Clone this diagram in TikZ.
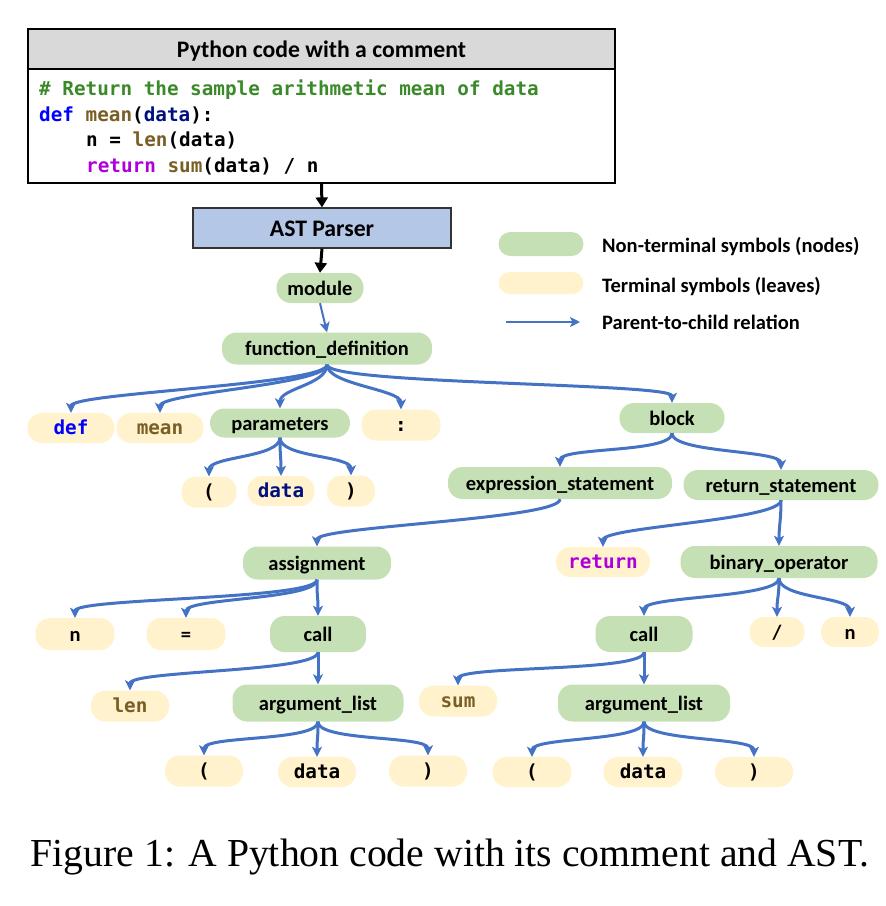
\documentclass[tikz,border=0pt]{standalone}
\usepackage{fontspec}
\setmainfont{Carlito}
\newfontfamily\monof{DejaVu Sans Mono}
\newfontfamily\capf{Liberation Serif}
\usetikzlibrary{arrows.meta}
\definecolor{ntg}{HTML}{C5E0B4}
\definecolor{lfy}{HTML}{FFF2CC}
\definecolor{edgeb}{HTML}{4472C4}
\definecolor{astb}{HTML}{B4C7E7}
\definecolor{hdrg}{HTML}{D9D9D9}
\definecolor{cmtg}{HTML}{3A8A2A}
\definecolor{kwb}{HTML}{0000FF}
\definecolor{fnbr}{HTML}{795E26}
\definecolor{varn}{HTML}{001080}
\definecolor{kwp}{HTML}{AF00DB}
\newcommand\nfont{\fontsize{20.5}{24}\selectfont\bfseries}
\newcommand\mfont{\monof\fontsize{19.3}{23}\selectfont\bfseries}
\newcommand\tfont{\fontsize{23.7}{28}\selectfont\bfseries}
\tikzset{
 pill/.style={rounded corners=14.5pt, inner sep=0pt},
 nt/.style={pill, fill=ntg, font=\nfont, text height=14pt, text depth=0pt},
 lf/.style={pill, fill=lfy, font=\mfont, text height=13pt, text depth=1pt},
 lfs/.style={pill, fill=lfy, font=\nfont, text height=14pt, text depth=0pt},
 tarr/.style={draw=edgeb, line width=3pt, -{Stealth[length=10pt,width=10pt,inset=2.5pt]}},
 blk/.style={draw=black, line width=3pt, -{Triangle[length=10pt,width=12pt]}},
 codeline/.style={anchor=west, inner sep=0pt, font=\mfont, text height=13pt, text depth=1pt},
 legtext/.style={anchor=west, inner sep=0pt, font=\nfont, text height=14pt, text depth=0pt},
 titletext/.style={font=\tfont, text height=17pt, text depth=0pt, inner sep=0pt},
}
\newcommand\tedge[2]{\draw[tarr] (#1.south) .. controls +(0,20) and +(0,-20) .. (#2.north);}
\begin{document}
\begin{tikzpicture}[x=1pt,y=-1pt]
\useasboundingbox (0,0) rectangle (886,906);
% code box
\node[draw=black, line width=1.4pt, fill=hdrg, minimum width=587pt, minimum height=40pt, titletext] (hdr) at (321.5,49) {Python code with a comment};
\node[draw=black, line width=1.4pt, fill=white, minimum width=587pt, minimum height=114pt, inner sep=0pt] (body) at (321.5,126) {};
\node[codeline] (l1) at (39,89) {\textcolor{cmtg}{\# Return the sample arithmetic mean of data}};
\node[codeline] (l2) at (39,115) {\textcolor{kwb}{def} \textcolor{fnbr}{mean}(\textcolor{varn}{data}):};
\node[codeline] (l3) at (86,140.5) {n = \textcolor{fnbr}{len}(data)};
\node[codeline] (l4) at (86,166) {\textcolor{kwp}{return} \textcolor{fnbr}{sum}(data) / n};
% parser
\node[draw=black!80, line width=1.2pt, fill=astb, minimum width=258pt, minimum height=40pt, titletext] (ast) at (322,228) {AST Parser};
\draw[blk] (body.south) -- (ast.north);
% tree
\node[nt, minimum width=87pt, minimum height=30pt] (module) at (320,288) {module};
\draw[blk] (ast.south) -- (module.north);
\node[nt, minimum width=210pt, minimum height=32pt] (fd) at (327,348.5) {function\_definition};
\draw[tarr, line width=2pt] (module.south) -- (fd.north);
\node[lf, minimum width=87pt, minimum height=30pt, text=kwb] (def) at (71,428) {def};
\node[lf, minimum width=87pt, minimum height=30pt, text=fnbr] (mean) at (160,428) {mean};
\node[nt, minimum width=140pt, minimum height=29pt] (params) at (280,423) {parameters};
\node[lf, minimum width=79pt, minimum height=31pt] (colon) at (401,425) {:};
\node[nt, minimum width=105pt, minimum height=30pt] (block) at (672,418) {block};
\foreach \c in {def,mean,params,colon,block} {\tedge{fd}{\c}}
\node[lf, minimum width=55pt, minimum height=31pt] (po) at (209,492) {(};
\node[lf, minimum width=67pt, minimum height=30pt, text=varn] (pd) at (281,491) {data};
\node[lf, minimum width=48pt, minimum height=31pt] (pc) at (351,491) {)};
\foreach \c in {po,pd,pc} {\tedge{params}{\c}}
\node[nt, minimum width=224pt, minimum height=32pt] (expr) at (560,483) {expression\_statement};
\node[nt, minimum width=195pt, minimum height=30pt] (ret) at (781,485) {return\_statement};
\tedge{block}{expr}
\tedge{block}{ret}
\node[lf, minimum width=94pt, minimum height=30pt, text=kwp] (retkw) at (603,562) {return};
\node[nt, minimum width=197pt, minimum height=32pt] (binop) at (779,562) {binary\_operator};
\tedge{ret}{retkw}
\tedge{ret}{binop}
\node[nt, minimum width=97pt, minimum height=36pt] (callr) at (644,634) {call};
\node[lfs, minimum width=55pt, minimum height=30pt] (slash) at (777,632) {/};
\node[lfs, minimum width=58pt, minimum height=30pt] (nr) at (850,632) {n};
\foreach \c in {callr,slash,nr} {\tedge{binop}{\c}}
\node[nt, minimum width=148pt, minimum height=33pt] (assign) at (317,563) {assignment};
\tedge{expr}{assign}
\node[lfs, minimum width=79pt, minimum height=32pt] (nl) at (75,634) {n};
\node[lfs, minimum width=79pt, minimum height=32pt] (eq) at (186,634) {=};
\node[nt, minimum width=96pt, minimum height=36pt] (calll) at (318,634) {call};
\foreach \c in {nl,eq,calll} {\tedge{assign}{\c}}
\node[lf, minimum width=78pt, minimum height=31pt, text=fnbr] (len) at (130,706) {len};
\node[nt, minimum width=171pt, minimum height=37pt] (argl) at (318,703) {argument\_list};
\tedge{calll}{len}
\tedge{calll}{argl}
\node[lf, minimum width=78pt, minimum height=31pt] (lo) at (204,771) {(};
\node[lf, minimum width=78pt, minimum height=30pt] (ld) at (317,772) {data};
\node[lf, minimum width=78pt, minimum height=31pt] (lc) at (428,771) {)};
\foreach \c in {lo,ld,lc} {\tedge{argl}{\c}}
\node[lf, minimum width=78pt, minimum height=31pt, text=fnbr] (sum) at (458,701) {sum};
\node[nt, minimum width=172pt, minimum height=37pt] (argr) at (644,703) {argument\_list};
\tedge{callr}{sum}
\tedge{callr}{argr}
\node[lf, minimum width=79pt, minimum height=30pt] (ro) at (532,772) {(};
\node[lf, minimum width=79pt, minimum height=30pt] (rd) at (643,772) {data};
\node[lf, minimum width=78pt, minimum height=30pt] (rc) at (754,772) {)};
\foreach \c in {ro,rd,rc} {\tedge{argr}{\c}}
% legend
\node[fill=ntg, rounded corners=12pt, minimum width=85pt, minimum height=24pt, inner sep=0pt] (lg1) at (541,244) {};
\node[fill=lfy, rounded corners=11pt, minimum width=85pt, minimum height=22pt, inner sep=0pt] (lg2) at (541,283) {};
\coordinate (la1) at (506,322);
\coordinate (la2) at (580,322);
\draw[tarr, line width=2pt] (la1) -- (la2);
\node[legtext] (lt1) at (602,245) {Non-terminal symbols (nodes)};
\node[legtext] (lt2) at (602,285) {Terminal symbols (leaves)};
\node[legtext] (lt3) at (602,322) {Parent-to-child relation};
% caption
\node[inner sep=0pt, anchor=base, font=\capf\fontsize{39.7}{44}\selectfont] (cap) at (450,866) {Figure 1: A Python code with its comment and AST.};
\end{tikzpicture}
\end{document}
